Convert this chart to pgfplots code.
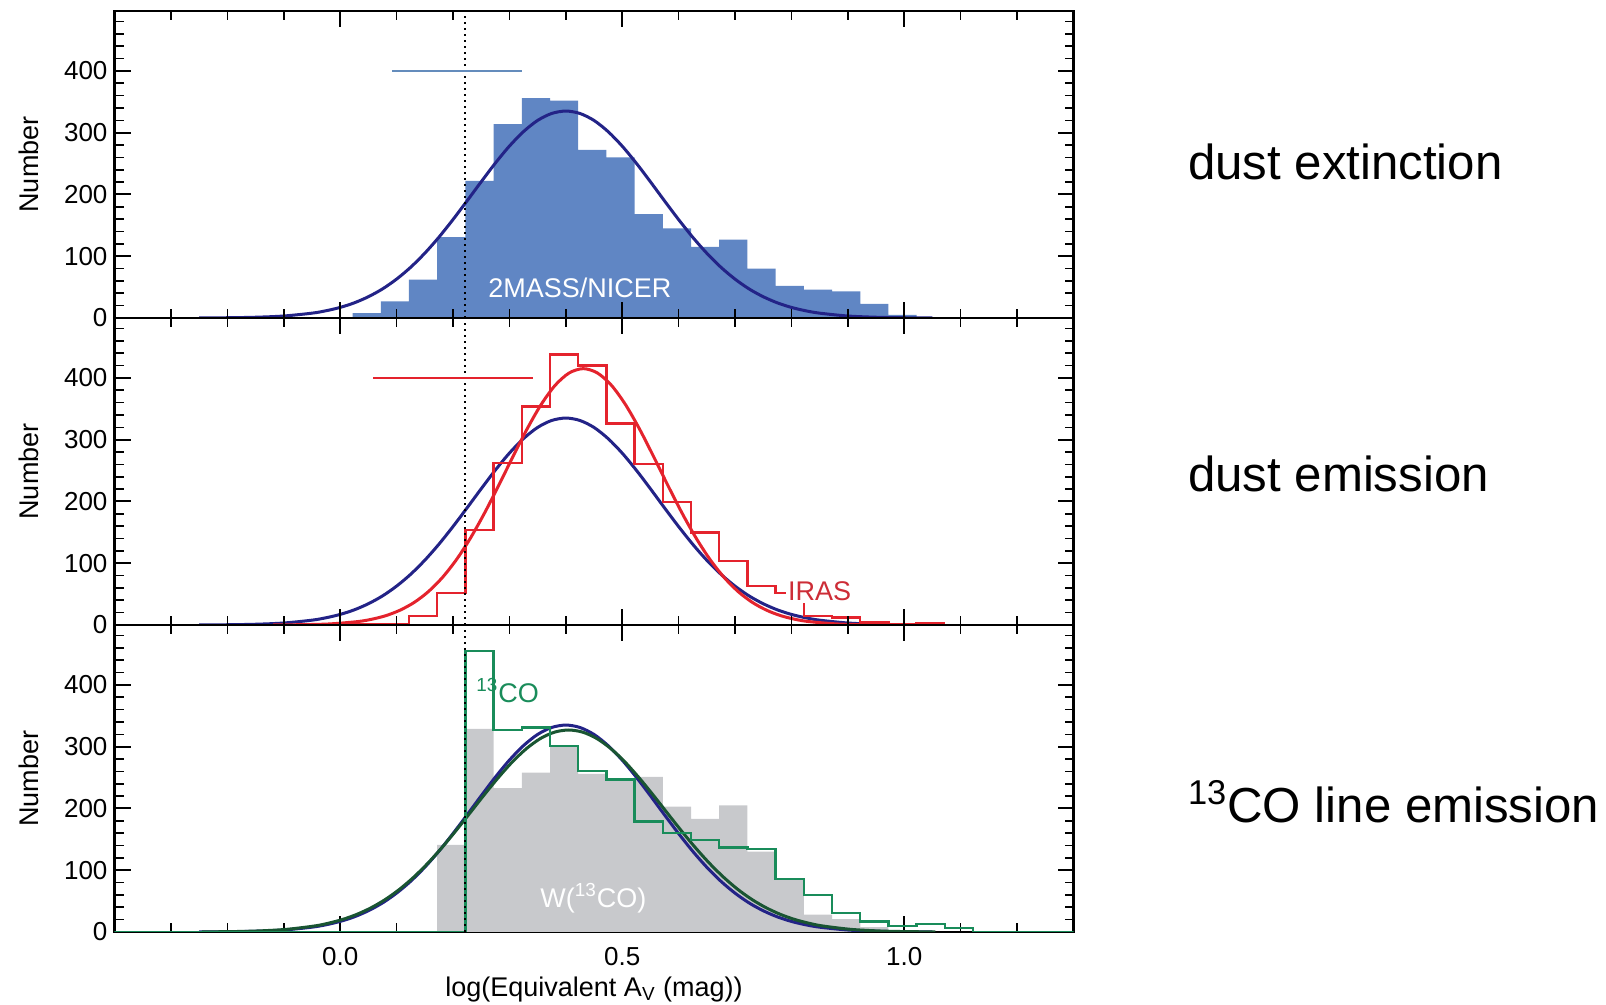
\documentclass[border=0pt]{standalone}
\usepackage{fontspec}
\setmainfont{Liberation Sans}
\usepackage{pgfplots}
\usepackage{pgfplotstable}
\pgfplotsset{compat=1.18}

\definecolor{barblue}{RGB}{96,134,196}
\definecolor{fitblue}{RGB}{35,35,135}
\definecolor{errblue}{RGB}{100,140,188}
\definecolor{irasred}{RGB}{228,35,45}
\definecolor{irastext}{RGB}{205,45,55}
\definecolor{costep}{RGB}{25,140,90}
\definecolor{cofit}{RGB}{25,85,50}
\definecolor{wcogrey}{RGB}{200,201,204}

% Gaussian fit to the extinction distribution (used in all panels)
\pgfplotstableread{
x y
-0.25 0.1
-0.2 0.4
-0.15 1.2
-0.1 3.2
-0.05 7.8
-0.025 11.7
0 17.1
0.025 24.5
0.05 34.4
0.075 47.0
0.1 62.9
0.125 82.1
0.15 104.8
0.175 130.7
0.2 159.3
0.225 189.6
0.25 220.5
0.275 250.6
0.3 278.2
0.325 301.7
0.35 319.8
0.375 331.1
0.4 335
0.425 331.1
0.45 319.8
0.475 301.7
0.5 278.2
0.525 250.6
0.55 220.5
0.575 189.6
0.6 159.3
0.625 130.7
0.65 104.8
0.675 82.1
0.7 62.9
0.725 47.0
0.75 34.4
0.775 24.5
0.8 17.1
0.825 11.7
0.85 7.8
0.9 3.2
0.95 1.2
1.0 0.4
1.05 0.1
}\extfit

% 2MASS/NICER histogram (left bin edges)
\pgfplotstableread{
x y
0.022 8
0.072 27
0.122 62
0.172 131
0.222 222
0.272 314
0.322 356
0.372 352
0.422 272
0.472 260
0.522 168
0.572 145
0.622 115
0.672 127
0.722 80
0.772 52
0.822 46
0.872 43
0.922 23
0.972 5
1.022 5
}\nicer

% IRAS histogram
\pgfplotstableread{
x y
0.0 1
0.072 2
0.122 15
0.172 52
0.222 154
0.272 262
0.322 354
0.372 438
0.422 420
0.472 326
0.522 261
0.572 199
0.622 150
0.672 104
0.722 63
0.772 52
0.822 15
0.872 12
0.922 4
0.972 1
1.022 3
1.072 3
}\iras

% Gaussian fit to the IRAS distribution
\pgfplotstableread{
x y
-0.119 0.1
-0.069 0.5
-0.019 1.7
0.031 5.5
0.056 9.3
0.081 15.1
0.106 23.9
0.131 36.4
0.156 53.7
0.181 76.6
0.206 105.6
0.231 140.7
0.256 181.3
0.281 225.9
0.306 272.0
0.331 316.7
0.356 356.5
0.381 387.9
0.406 408.0
0.431 415
0.456 408.0
0.481 387.9
0.506 356.5
0.531 316.7
0.556 272.0
0.581 225.9
0.606 181.3
0.631 140.7
0.656 105.6
0.681 76.6
0.706 53.7
0.731 36.4
0.756 23.9
0.781 15.1
0.806 9.3
0.831 5.5
0.881 1.7
0.931 0.5
0.981 0.1
}\irasfit

% W(13CO) histogram
\pgfplotstableread{
x y
0.172 141
0.222 329
0.272 233
0.322 258
0.372 300
0.422 256
0.472 247
0.522 251
0.572 203
0.622 183
0.672 205
0.722 130
0.772 85
0.822 28
0.872 21
0.922 8
0.972 3
1.022 3
}\wco

% 13CO column density histogram
\pgfplotstableread{
x y
-0.4 0
0.222 455
0.272 327
0.322 331
0.372 301
0.422 261
0.472 247
0.522 179
0.572 160
0.622 149
0.672 137
0.722 134
0.772 86
0.822 60
0.872 31
0.922 17
0.972 10
1.022 13
1.072 6
1.122 0
1.3 0
}\costeps

% Gaussian fit to the 13CO distribution
\pgfplotstableread{
x y
-0.245 0.2
-0.195 0.6
-0.145 1.7
-0.095 4.3
-0.045 9.8
-0.020 14.4
0.005 20.5
0.030 28.7
0.055 39.3
0.080 52.6
0.105 68.9
0.130 88.4
0.155 110.9
0.180 136.2
0.205 163.7
0.230 192.5
0.255 221.6
0.280 249.5
0.305 275.1
0.330 296.7
0.355 313.2
0.380 323.5
0.405 327
0.430 323.5
0.455 313.2
0.480 296.7
0.505 275.1
0.530 249.5
0.555 221.6
0.580 192.5
0.605 163.7
0.630 136.2
0.655 110.9
0.680 88.4
0.705 68.9
0.730 52.6
0.755 39.3
0.780 28.7
0.805 20.5
0.830 14.4
0.855 9.8
0.905 4.3
0.955 1.7
1.005 0.6
1.055 0.2
}\cofitdata

\pgfplotsset{
  panel/.style={
    anchor=south west,
    scale only axis,
    width=479.5pt, height=153.5pt,
    xmin=-0.4, xmax=1.3, ymin=0, ymax=497,
    xtick={0,0.5,1},
    minor xtick={-0.3,-0.2,-0.1,0.1,0.2,0.3,0.4,0.6,0.7,0.8,0.9,1.1,1.2},
    ytick={0,100,200,300,400},
    minor ytick={20,40,60,80,120,140,160,180,220,240,260,280,320,340,360,380,420,440,460,480},
    tick align=inside,
    major tick length=8pt, minor tick length=4.5pt,
    every major tick/.append style={black, line width=1pt},
    every minor tick/.append style={black, line width=0.8pt},
    axis line style={line width=1.3pt},
    axis on top,
    tick label style={font=\fontsize{13}{15}\selectfont},
    /pgf/number format/assume math mode=true,
    x tick label style={/pgf/number format/.cd, fixed, fixed zerofill, precision=1, /tikz/.cd, yshift=-4pt},
    ylabel={Number},
    every axis y label/.style={at={(axis description cs:-0.089,0.5)}, rotate=90, anchor=center, font=\fontsize{13.5}{16}\selectfont},
  },
  threshold/.style={black, line width=1pt, dash pattern=on 1.2pt off 1.8pt},
}

\begin{document}
\begin{tikzpicture}
\path[use as bounding box] (0,0) rectangle (803pt,502.5pt);

% dust extinction
\begin{axis}[panel, at={(57.25pt,343.5pt)}, xticklabels={}]
  \addplot[const plot mark left, fill=barblue, draw=none] table {\nicer} \closedcycle;
  \addplot[fitblue, line width=1.5pt, smooth] table {\extfit};
  \addplot[threshold] coordinates {(0.222,0) (0.222,497)};
  \addplot[errblue, line width=1.3pt] coordinates {(0.092,400) (0.323,400)};
  \node[white, font=\fontsize{13.5}{16}\selectfont] at (axis cs:0.425,49) {2MASS/NICER};
\end{axis}

% dust emission
\begin{axis}[panel, at={(57.25pt,190pt)}, xticklabels={}]
  \addplot[fitblue, line width=1.5pt, smooth] table {\extfit};
  \addplot[irasred, line width=1.5pt, smooth] table {\irasfit};
  \addplot[const plot mark left, irasred, line width=1.2pt] table {\iras};
  \addplot[threshold] coordinates {(0.222,0) (0.222,497)};
  \addplot[irasred, line width=1.3pt] coordinates {(0.059,400) (0.342,400)};
  \node[irastext, fill=white, inner sep=1pt, anchor=west, font=\fontsize{13.5}{16}\selectfont] at (axis cs:0.79,55) {IRAS};
\end{axis}

% 13CO line emission: the step line is drawn over the frame, so no axis on top here
\begin{axis}[panel, axis on top=false, at={(57.25pt,36.5pt)},
  xlabel={log(Equivalent A\textsubscript{V} (mag))},
  every axis x label/.style={at={(axis description cs:0.5,-0.186)}, anchor=center, font=\fontsize{13.5}{16}\selectfont}]
  \addplot[const plot mark left, fill=wcogrey, draw=none] table {\wco} \closedcycle;
  \addplot[fitblue, line width=1.5pt, smooth] table {\extfit};
  \addplot[cofit, line width=1.5pt, smooth] table {\cofitdata};
  \addplot[const plot mark left, costep, line width=1.2pt] table {\costeps};
  \addplot[threshold] coordinates {(0.222,0) (0.222,497)};
  \node[costep, font=\fontsize{13.5}{16}\selectfont] at (axis cs:0.297,391) {\textsuperscript{13}CO};
  \node[white, font=\fontsize{13.5}{16}\selectfont] at (axis cs:0.449,55) {W(\textsuperscript{13}CO)};
\end{axis}

\node[anchor=west, font=\fontsize{24.6}{29}\selectfont] at (590.5pt,421.5pt) {dust extinction};
\node[anchor=west, font=\fontsize{24.6}{29}\selectfont] at (590.5pt,265.5pt) {dust emission};
\node[anchor=west, font=\fontsize{24.6}{29}\selectfont] at (590.5pt,101.5pt) {\textsuperscript{13}CO line emission};
\end{tikzpicture}
\end{document}
